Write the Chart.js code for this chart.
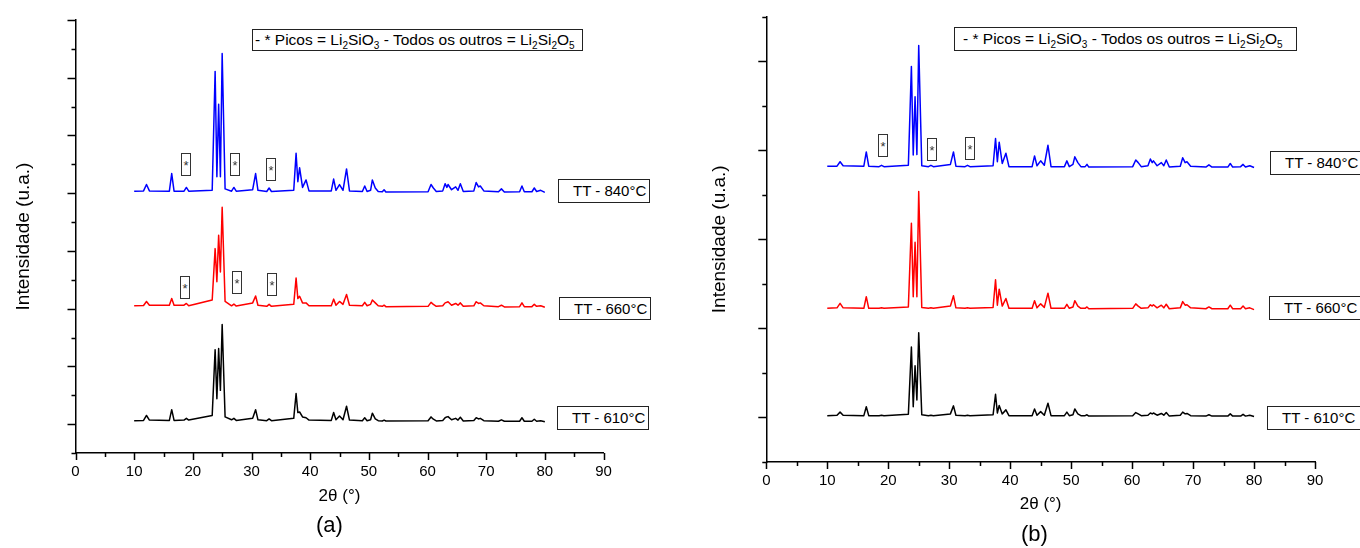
<!DOCTYPE html>
<html lang="pt">
<head>
<meta charset="utf-8">
<title>DRX - Li2Si2O5</title>
<script src="https://cdn.jsdelivr.net/npm/chart.js@4/dist/chart.umd.min.js"></script>
<style>
  body { margin: 0; background: #fff; }
  #pagina { position: relative; width: 1360px; height: 548px; overflow: hidden; font-family: "Liberation Sans", Arial, sans-serif; }
  canvas { position: absolute; top: 0; }
  .caixa { position: absolute; box-sizing: border-box; border: 1px solid #222; background: #fff; color: #000; white-space: nowrap; }
  .legenda { font-size: 15.5px; line-height: 20px; padding-left: 2px; }
  .legenda sub { font-size: 10px; vertical-align: -4px; line-height: 0; }
  .tt { font-size: 15px; padding-left: 14px; }
  .ast { border-color: #333; font-size: 13px; color: #333; text-align: center; line-height: 24px; width: 10px; height: 23px; }
  .letra { position: absolute; font-size: 22px; color: #000; }
</style>
</head>
<body>
<div id="pagina">
  <canvas id="graficoA" width="680" height="548" style="left:0px"></canvas>
  <canvas id="graficoB" width="680" height="548" style="left:680px"></canvas>

  <div class="caixa legenda" style="left:252px;top:29px;width:331px;height:22px">- * Picos = Li<sub>2</sub>SiO<sub>3</sub> - Todos os outros = Li<sub>2</sub>Si<sub>2</sub>O<sub>5</sub></div>
  <div class="caixa tt" style="left:558px;top:179px;width:92px;height:24px;line-height:22px">TT - 840°C</div>
  <div class="caixa tt" style="left:559px;top:297px;width:92px;height:23px;line-height:21px">TT - 660°C</div>
  <div class="caixa tt" style="left:557px;top:406px;width:92px;height:24px;line-height:22px">TT - 610°C</div>
  <div class="caixa ast" style="left:181px;top:153px">*</div>
  <div class="caixa ast" style="left:230px;top:153px">*</div>
  <div class="caixa ast" style="left:266px;top:158px">*</div>
  <div class="caixa ast" style="left:180px;top:276px">*</div>
  <div class="caixa ast" style="left:232px;top:271px">*</div>
  <div class="caixa ast" style="left:267px;top:273px">*</div>
  <div class="letra" style="left:316px;top:512px">(a)</div>

  <div class="caixa legenda" style="left:954px;top:27px;width:343px;height:24px;line-height:22px;padding-left:8px">- * Picos = Li<sub>2</sub>SiO<sub>3</sub> - Todos os outros = Li<sub>2</sub>Si<sub>2</sub>O<sub>5</sub></div>
  <div class="caixa tt" style="left:1270px;top:151px;width:91px;height:24px;line-height:22px">TT - 840°C</div>
  <div class="caixa tt" style="left:1269px;top:296px;width:92px;height:24px;line-height:22px">TT - 660°C</div>
  <div class="caixa tt" style="left:1267px;top:406px;width:94px;height:24px;line-height:22px">TT - 610°C</div>
  <div class="caixa ast" style="left:878px;top:134px">*</div>
  <div class="caixa ast" style="left:927px;top:138px">*</div>
  <div class="caixa ast" style="left:965px;top:137px">*</div>
  <div class="letra" style="left:1021px;top:521px">(b)</div>
</div>

<script>
// angulos 2theta (graus) onde os difratogramas foram lidos
const doisTheta = [
  10, 11.6, 12.1, 12.6,
  16.0, 16.4, 16.8,
  18.5, 18.9, 19.3,
  23.3, 23.8, 24.1, 24.4, 24.7, 25.0, 25.5,
  26.6, 27.0, 27.4,
  30.2, 30.7, 31.1,
  32.6, 33.0, 33.4,
  37.2, 37.6, 37.9, 38.2, 38.7, 39.3, 39.8,
  43.6, 44.0, 44.4, 45.0, 45.6, 46.2, 46.7,
  48.9, 49.3, 49.7,
  50.3, 50.6, 51.1, 51.6,
  52.3, 52.6, 52.9,
  60.1, 60.6, 61.0, 61.5,
  62.6, 63.0, 63.3, 63.5, 64.1, 64.8, 65.2, 65.6, 66.1,
  67.9, 68.3, 68.7, 69.0, 69.6,
  72.1, 72.6, 73.1,
  75.7, 76.1, 76.5,
  77.8, 78.2, 78.6, 79.3, 80
];

// (a) intensidades (u.a., ja deslocadas verticalmente)
const a840 = [
  9.07, 9.08, 9.30, 9.08,
  9.07, 9.68, 9.07,
  9.07, 9.20, 9.07,
  9.10, 13.22, 9.57, 12.08, 9.57, 13.84, 9.15,
  9.07, 9.20, 9.07,
  9.12, 9.68, 9.10,
  9.06, 9.18, 9.06,
  9.10, 10.38, 9.40, 9.88, 9.20, 9.46, 9.08,
  9.08, 9.49, 9.10, 9.30, 9.10, 9.84, 9.08,
  9.06, 9.25, 9.06,
  9.10, 9.46, 9.18, 9.06,
  9.05, 9.12, 9.04,
  9.05, 9.30, 9.18, 9.06,
  9.08, 9.33, 9.20, 9.30, 9.12, 9.22, 9.10, 9.33, 9.06,
  9.08, 9.37, 9.22, 9.25, 9.08,
  9.05, 9.15, 9.04,
  9.05, 9.25, 9.05,
  9.05, 9.18, 9.06, 9.10, 9.03
];
const a660 = [
  5.10, 5.11, 5.25, 5.12,
  5.12, 5.35, 5.12,
  5.12, 5.18, 5.10,
  5.30, 7.08, 5.93, 7.54, 6.27, 8.51, 5.25,
  5.10, 5.16, 5.09,
  5.20, 5.44, 5.12,
  5.08, 5.15, 5.08,
  5.15, 6.06, 5.35, 5.43, 5.20, 5.20, 5.10,
  5.10, 5.33, 5.12, 5.25, 5.15, 5.49, 5.12,
  5.10, 5.22, 5.10,
  5.15, 5.30, 5.20, 5.10,
  5.08, 5.12, 5.07,
  5.08, 5.22, 5.15, 5.08,
  5.10, 5.20, 5.22, 5.24, 5.12, 5.18, 5.12, 5.20, 5.08,
  5.10, 5.24, 5.18, 5.20, 5.10,
  5.07, 5.12, 5.06,
  5.07, 5.20, 5.07,
  5.07, 5.15, 5.08, 5.10, 5.05
];
const a610 = [
  1.12, 1.13, 1.30, 1.14,
  1.13, 1.50, 1.13,
  1.14, 1.20, 1.14,
  1.30, 3.58, 1.88, 3.62, 2.17, 4.45, 1.25,
  1.15, 1.20, 1.13,
  1.20, 1.50, 1.15,
  1.12, 1.18, 1.12,
  1.20, 2.06, 1.40, 1.42, 1.25, 1.22, 1.14,
  1.13, 1.40, 1.15, 1.28, 1.15, 1.62, 1.14,
  1.12, 1.22, 1.12,
  1.15, 1.38, 1.18, 1.12,
  1.11, 1.14, 1.11,
  1.12, 1.25, 1.17, 1.11,
  1.13, 1.22, 1.25, 1.26, 1.15, 1.20, 1.14, 1.24, 1.11,
  1.13, 1.22, 1.18, 1.20, 1.12,
  1.10, 1.15, 1.10,
  1.10, 1.22, 1.10,
  1.10, 1.17, 1.10, 1.12, 1.08
];

// (b) intensidades
const b840 = [
  6.64, 6.64, 6.74, 6.65,
  6.64, 6.96, 6.64,
  6.63, 6.66, 6.63,
  6.66, 8.88, 6.89, 8.20, 6.90, 9.35, 6.65,
  6.63, 6.66, 6.63,
  6.68, 6.96, 6.64,
  6.63, 6.66, 6.63,
  6.65, 7.26, 6.74, 7.18, 6.70, 6.93, 6.63,
  6.63, 6.87, 6.65, 6.76, 6.66, 7.11, 6.63,
  6.63, 6.76, 6.63,
  6.68, 6.85, 6.72, 6.63,
  6.63, 6.68, 6.62,
  6.63, 6.78, 6.72, 6.63,
  6.65, 6.80, 6.72, 6.76, 6.65, 6.72, 6.65, 6.78, 6.62,
  6.64, 6.83, 6.72, 6.74, 6.64,
  6.62, 6.67, 6.62,
  6.62, 6.70, 6.62,
  6.63, 6.68, 6.62, 6.65, 6.61
];
const b660 = [
  3.45, 3.46, 3.56, 3.46,
  3.45, 3.71, 3.45,
  3.45, 3.46, 3.45,
  3.48, 5.36, 3.71, 4.93, 3.71, 6.07, 3.47,
  3.45, 3.46, 3.45,
  3.50, 3.73, 3.46,
  3.45, 3.46, 3.45,
  3.47, 4.09, 3.52, 3.88, 3.50, 3.67, 3.45,
  3.45, 3.62, 3.46, 3.55, 3.47, 3.79, 3.45,
  3.45, 3.54, 3.45,
  3.48, 3.62, 3.50, 3.45,
  3.45, 3.48, 3.44,
  3.45, 3.55, 3.50, 3.45,
  3.46, 3.53, 3.50, 3.53, 3.46, 3.52, 3.46, 3.54, 3.44,
  3.46, 3.60, 3.52, 3.53, 3.46,
  3.44, 3.48, 3.44,
  3.44, 3.52, 3.44,
  3.44, 3.50, 3.44, 3.46, 3.42
];
const b610 = [
  1.04, 1.05, 1.12, 1.05,
  1.04, 1.24, 1.04,
  1.04, 1.05, 1.04,
  1.07, 2.58, 1.24, 2.16, 1.39, 2.90, 1.06,
  1.04, 1.05, 1.04,
  1.08, 1.26, 1.05,
  1.04, 1.05, 1.04,
  1.06, 1.52, 1.10, 1.27, 1.08, 1.17, 1.04,
  1.04, 1.19, 1.05, 1.13, 1.05, 1.32, 1.04,
  1.04, 1.12, 1.04,
  1.06, 1.19, 1.08, 1.04,
  1.04, 1.06, 1.03,
  1.04, 1.11, 1.08, 1.04,
  1.05, 1.10, 1.08, 1.10, 1.05, 1.09, 1.05, 1.11, 1.03,
  1.05, 1.12, 1.08, 1.09, 1.04,
  1.03, 1.06, 1.03,
  1.03, 1.08, 1.03,
  1.03, 1.07, 1.03, 1.05, 1.02
];

const xMarcas = [0, 90];   // limites do eixo 2theta
const fonte = '"Liberation Sans", Arial, sans-serif';

function pontos(valores) {
  return doisTheta.map((t, i) => ({ x: t, y: valores[i] }));
}

function serie(valores, cor) {
  return {
    data: pontos(valores),
    borderColor: cor,
    borderWidth: 1.5,
    borderJoinStyle: 'round',
    pointRadius: 0,
    tension: 0,
    fill: false
  };
}

// marcas maiores e menores dos eixos, desenhadas para fora
const marcasEixos = {
  id: 'marcasEixos',
  afterDraw(chart) {
    const ctx = chart.ctx;
    const sx = chart.scales.x;
    const sy = chart.scales.y;
    ctx.save();
    ctx.strokeStyle = '#000';
    ctx.lineWidth = 1.5;
    ctx.beginPath();
    sx.ticks.forEach(t => {
      const px = Math.round(sx.getPixelForValue(t.value)) + 0.5;
      const len = t.value % 10 === 0 ? 7 : 4;
      ctx.moveTo(px, sx.top);
      ctx.lineTo(px, sx.top + len);
    });
    sy.ticks.forEach(t => {
      const py = Math.round(sy.getPixelForValue(t.value)) + 0.5;
      const len = t.value % 2 === 1 ? 8 : 4;
      ctx.moveTo(sy.right - len, py);
      ctx.lineTo(sy.right, py);
    });
    ctx.stroke();
    ctx.restore();
  }
};

function criarGrafico(id, series, yMax, p) {
  return new Chart(document.getElementById(id), {
    type: 'line',
    data: { datasets: series },
    plugins: [marcasEixos],
    options: {
      responsive: false,
      animation: false,
      devicePixelRatio: 1,
      layout: { padding: { left: 0, right: p.direita, top: p.topo, bottom: 0 } },
      plugins: { legend: { display: false }, tooltip: { enabled: false } },
      scales: {
        x: {
          type: 'linear',
          min: xMarcas[0],
          max: xMarcas[1],
          grid: { display: false, drawTicks: false },
          border: { display: true, color: '#000', width: 1.5 },
          ticks: {
            stepSize: 5,
            autoSkip: false,
            maxRotation: 0,
            padding: 10,
            color: '#000',
            font: { family: fonte, size: 15 },
            callback: v => (v % 10 === 0 ? v : '')
          },
          title: {
            display: true,
            text: '2θ (°)',
            color: '#000',
            font: { family: fonte, size: 17 },
            padding: { top: 0, bottom: p.tituloX }
          },
          afterFit: s => { s.height = p.alturaX; }
        },
        y: {
          min: 0,
          max: yMax,
          grid: { display: false, drawTicks: false },
          border: { display: true, color: '#000', width: 1.5 },
          ticks: { stepSize: 1, display: false },
          title: {
            display: true,
            text: 'Intensidade (u.a.)',
            color: '#000',
            font: { family: fonte, size: 19 },
            padding: { top: p.tituloY, bottom: 0 }
          },
          afterFit: s => { s.width = p.larguraY; }
        }
      }
    }
  });
}

criarGrafico('graficoA', [
  serie(a610, '#000000'),
  serie(a660, '#ff0000'),
  serie(a840, '#0000ff')
], 15, { direita: 76.5, topo: 20, alturaX: 95, larguraY: 75.5, tituloX: 41, tituloY: 12 });

criarGrafico('graficoB', [
  serie(b610, '#000000'),
  serie(b660, '#ff0000'),
  serie(b840, '#0000ff')
], 10, { direita: 45, topo: 16.5, alturaX: 86, larguraY: 86.3, tituloX: 33, tituloY: 28.5 });
</script>
</body>
</html>
